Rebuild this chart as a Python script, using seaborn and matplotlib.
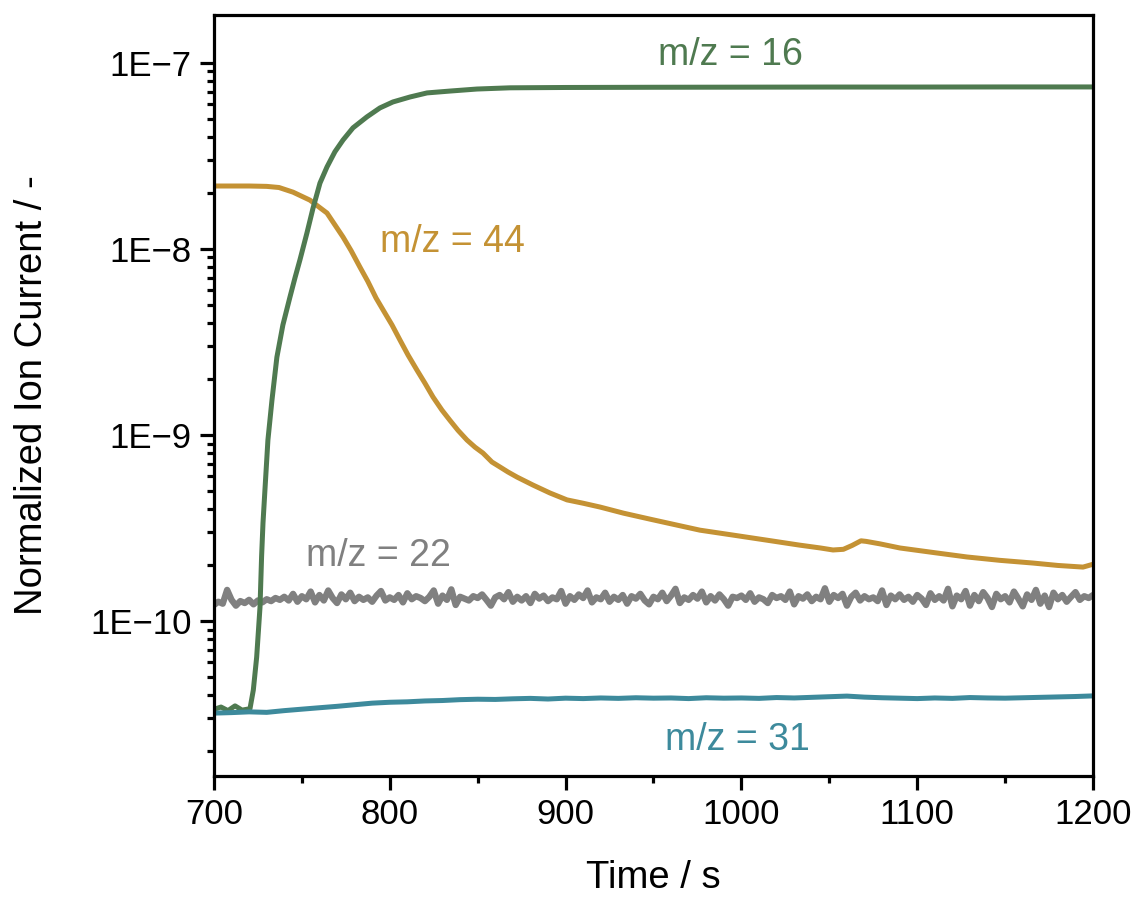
import numpy as np
import pandas as pd
import matplotlib
matplotlib.use("Agg")
import matplotlib.pyplot as plt
import matplotlib.ticker as mticker
import seaborn as sns

# ---------------- data ----------------
t16 = [700, 704, 708, 712, 716, 720.5, 722.4, 724.3, 726.2, 727.1, 727.9, 729.0, 730.7,
       733.0, 735.8, 739.2, 743.2, 746.1, 748.9, 752.9, 756.3, 760.3, 764.3, 768.8,
       773.4, 779.1, 787.0, 794.4, 801.8, 811.5, 821.2, 834.2, 849.6, 868.4, 900, 950,
       1000, 1050, 1100, 1150, 1200]
v16 = [3.35e-11, 3.45e-11, 3.30e-11, 3.50e-11, 3.32e-11, 3.38e-11, 4.26e-11, 6.4e-11,
       1.19e-10, 2.22e-10, 3.37e-10, 5.06e-10, 9.4e-10, 1.54e-9, 2.62e-9, 3.9e-9, 5.5e-9,
       7.0e-9, 8.73e-9, 1.22e-8, 1.65e-8, 2.26e-8, 2.76e-8, 3.33e-8, 3.85e-8, 4.48e-8,
       5.13e-8, 5.73e-8, 6.17e-8, 6.56e-8, 6.90e-8, 7.06e-8, 7.24e-8, 7.35e-8, 7.38e-8,
       7.40e-8, 7.41e-8, 7.42e-8, 7.42e-8, 7.43e-8, 7.43e-8]

t44 = [700, 720, 730, 737, 745, 754.6, 764.3, 773.4, 778, 783, 787.5, 792.2, 796.5,
       801.3, 805.8, 810.4, 815.5, 820, 824.6, 829.7, 834.2, 838.8, 843.9, 848.5, 853,
       858.1, 862.7, 867.2, 872.4, 881.5, 891.1, 900.8, 909.9, 919.6, 933, 948, 962,
       976.4, 995, 1014.6, 1033, 1045, 1052.1, 1058, 1063, 1068, 1071, 1078.8, 1090.2,
       1110, 1128.3, 1147, 1165.9, 1180, 1194.3, 1200]
v44 = [2.18e-8, 2.18e-8, 2.17e-8, 2.14e-8, 2.02e-8, 1.83e-8, 1.56e-8, 1.16e-8, 9.8e-9,
       8.0e-9, 6.7e-9, 5.45e-9, 4.65e-9, 3.9e-9, 3.24e-9, 2.69e-9, 2.23e-9, 1.9e-9,
       1.6e-9, 1.36e-9, 1.2e-9, 1.06e-9, 9.4e-10, 8.6e-10, 8.0e-10, 7.16e-10, 6.73e-10,
       6.33e-10, 5.94e-10, 5.38e-10, 4.88e-10, 4.48e-10, 4.3e-10, 4.1e-10, 3.8e-10,
       3.53e-10, 3.3e-10, 3.08e-10, 2.9e-10, 2.72e-10, 2.56e-10, 2.47e-10, 2.41e-10,
       2.43e-10, 2.55e-10, 2.70e-10, 2.68e-10, 2.6e-10, 2.47e-10, 2.33e-10, 2.21e-10,
       2.12e-10, 2.05e-10, 1.99e-10, 1.95e-10, 2.02e-10]

t22 = np.arange(700, 1200.1, 2.5)
v22_e10 = [1.22, 1.27, 1.24, 1.47, 1.30, 1.21, 1.28, 1.25, 1.30, 1.23,
           1.29, 1.26, 1.31, 1.28, 1.33, 1.30, 1.35, 1.29, 1.40, 1.27,
           1.36, 1.31, 1.44, 1.26, 1.38, 1.29, 1.46, 1.33, 1.25, 1.39,
           1.31, 1.42, 1.28, 1.35, 1.30, 1.34, 1.27, 1.37, 1.45, 1.29,
           1.34, 1.30, 1.38, 1.26, 1.41, 1.31, 1.36, 1.33, 1.28, 1.35,
           1.46, 1.24, 1.37, 1.30, 1.48, 1.22, 1.35, 1.32, 1.29, 1.36,
           1.33, 1.39, 1.30, 1.21, 1.34, 1.38, 1.31, 1.43, 1.27, 1.35,
           1.29, 1.36, 1.25, 1.40, 1.32, 1.37, 1.28, 1.34, 1.31, 1.45,
           1.24, 1.36, 1.30, 1.39, 1.33, 1.46, 1.26, 1.34, 1.31, 1.42,
           1.27, 1.35, 1.30, 1.38, 1.24, 1.36, 1.32, 1.40, 1.29, 1.23,
           1.35, 1.31, 1.42, 1.28, 1.37, 1.49, 1.25, 1.34, 1.30, 1.38,
           1.32, 1.44, 1.26, 1.36, 1.29, 1.39, 1.31, 1.21, 1.35, 1.33,
           1.37, 1.30, 1.41, 1.27, 1.34, 1.31, 1.25, 1.38, 1.33, 1.36,
           1.30, 1.44, 1.23, 1.36, 1.32, 1.39, 1.28, 1.35, 1.31, 1.50,
           1.27, 1.38, 1.33, 1.40, 1.21, 1.35, 1.42, 1.29, 1.36, 1.31,
           1.34, 1.28, 1.46, 1.22, 1.37, 1.31, 1.39, 1.30, 1.35, 1.27,
           1.38, 1.32, 1.22, 1.41, 1.30, 1.36, 1.29, 1.49, 1.20, 1.37,
           1.31, 1.45, 1.21, 1.38, 1.28, 1.43, 1.33, 1.19, 1.40, 1.31,
           1.36, 1.26, 1.44, 1.32, 1.20, 1.39, 1.30, 1.47, 1.24, 1.37,
           1.19, 1.42, 1.31, 1.38, 1.27, 1.35, 1.43, 1.30, 1.36, 1.33,
           1.38]

t31 = list(range(700, 1201, 10))
v31_e11 = [3.20, 3.22, 3.25, 3.23, 3.30, 3.36, 3.42, 3.48, 3.55, 3.62, 3.66, 3.68, 3.72,
           3.74, 3.78, 3.80, 3.79, 3.82, 3.84, 3.81, 3.85, 3.83, 3.86, 3.84, 3.87, 3.85,
           3.86, 3.83, 3.87, 3.85, 3.86, 3.84, 3.88, 3.86, 3.89, 3.92, 3.95, 3.90, 3.87,
           3.85, 3.83, 3.86, 3.84, 3.88, 3.86, 3.85, 3.87, 3.89, 3.91, 3.93, 3.96]

labels = ["m/z = 16", "m/z = 44", "m/z = 22", "m/z = 31"]
label_x = [993.5, 835.4, 793.3, 997.5]
label_y = [1.10e-7, 1.09e-8, 2.23e-10, 2.29e-11]

ytick_vals = [1e-10, 1e-9, 1e-8, 1e-7]
ytick_labels = ["1E\u221210", "1E\u22129", "1E\u22128", "1E\u22127"]
xtick_vals = [700, 800, 900, 1000, 1100, 1200]

colors = {"16": "#4f7a50", "44": "#c49234", "22": "#808080", "31": "#3d8a9c"}

# ---------------- figure ----------------
sns.set_theme(style="ticks")
plt.rcParams["font.family"] = ["Liberation Sans", "DejaVu Sans"]
for k in ["text.color", "axes.labelcolor", "xtick.color", "ytick.color", "axes.edgecolor"]:
    plt.rcParams[k] = "black"

fig = plt.figure(figsize=(11.38, 8.98), dpi=100)
ax = fig.add_axes([0.188, 0.1359, 0.7725, 0.8474])

df22 = pd.DataFrame({"t": t22, "v": np.array(v22_e10) * 1e-10})
df44 = pd.DataFrame({"t": t44, "v": v44})
df16 = pd.DataFrame({"t": t16, "v": v16})
df31 = pd.DataFrame({"t": t31, "v": np.array(v31_e11) * 1e-11})

lw = 3.6
sns.lineplot(data=df22, x="t", y="v", ax=ax, color=colors["22"], linewidth=4.6, estimator=None)
sns.lineplot(data=df44, x="t", y="v", ax=ax, color=colors["44"], linewidth=lw, estimator=None)
sns.lineplot(data=df16, x="t", y="v", ax=ax, color=colors["16"], linewidth=lw, estimator=None)
sns.lineplot(data=df31, x="t", y="v", ax=ax, color=colors["31"], linewidth=lw, estimator=None)

ax.set_yscale("log")
ax.set_xlim(700, 1200)
ax.set_ylim(1.47e-11, 1.81e-7)

ax.yaxis.set_major_locator(mticker.FixedLocator(ytick_vals))
ax.yaxis.set_major_formatter(mticker.FixedFormatter(ytick_labels))
ax.yaxis.set_minor_locator(mticker.LogLocator(base=10, subs=np.arange(2, 10), numticks=20))
ax.yaxis.set_minor_formatter(mticker.NullFormatter())
ax.xaxis.set_major_locator(mticker.FixedLocator(xtick_vals))
ax.xaxis.set_minor_locator(mticker.MultipleLocator(50))

for s in ax.spines.values():
    s.set_linewidth(2.3)
    s.set_color("black")
ax.tick_params(which="major", direction="out", length=10, width=2.3, labelsize=25,
               colors="black", pad=6)
ax.tick_params(which="minor", direction="out", length=5, width=2.3, colors="black")
ax.tick_params(top=False, right=False, which="both")

ax.set_xlabel("Time / s", fontsize=27.5, labelpad=21, color="black")
ax.set_ylabel("Normalized Ion Current / -", fontsize=27.5, labelpad=29, color="black")

for lab, x, y, c in zip(labels, label_x, label_y, ["16", "44", "22", "31"]):
    ax.text(x, y, lab, color=colors[c], fontsize=27, ha="center", va="center")

fig.savefig("out.png", dpi=100)
